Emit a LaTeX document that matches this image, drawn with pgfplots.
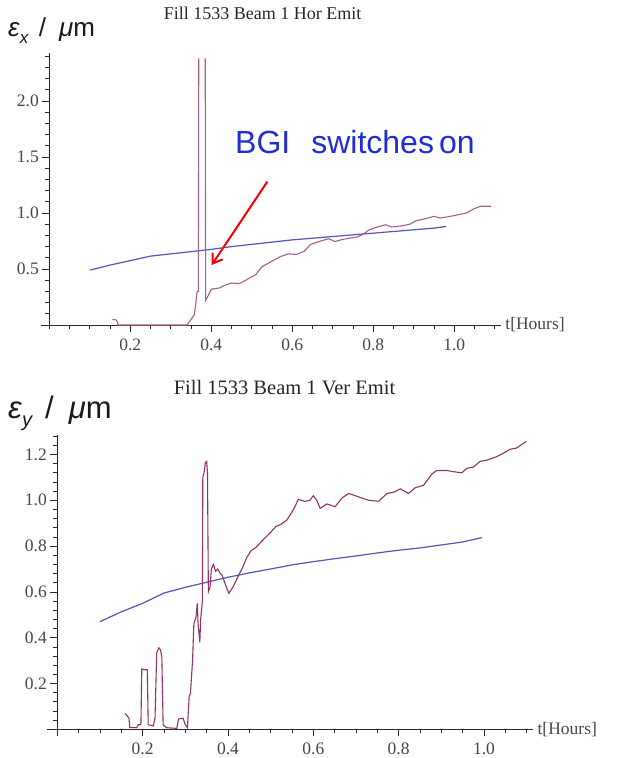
\documentclass[border=0pt]{standalone}
\usepackage{pgfplots}
\pgfplotsset{compat=1.18}
\usetikzlibrary{arrows.meta}
\usepackage{fontspec}
\setmainfont{Liberation Serif}
\newfontfamily\arial{Liberation Sans}
\definecolor{emblue}{RGB}{85,85,180}
\definecolor{empurpleA}{RGB}{165,95,140}
\definecolor{empurpleB}{RGB}{145,50,105}
\definecolor{bgiblue}{RGB}{30,45,215}
\definecolor{tickgray}{RGB}{70,70,70}
\definecolor{axgray}{RGB}{40,40,40}
\pgfplotsset{
  mstyle/.style={
    axis lines=middle,
    every inner x axis line/.append style={-},
    every inner y axis line/.append style={-},
    axis line style={axgray, line width=0.9pt, -},
    tick style={axgray, line width=0.7pt},
    tick align=outside,
    major tick length=7pt, minor tick length=4pt,
    ticklabel style={tickgray, font=\fontsize{17.5}{17.5}\selectfont},
    xticklabel style={yshift=-3pt},
    /pgf/number format/assume math mode=true,
    /pgf/number format/fixed, /pgf/number format/fixed zerofill,
    /pgf/number format/precision=1,
    xtick={0.2,0.4,0.6,0.8,1.0},
    minor xtick={0.05,0.1,0.15,0.25,0.3,0.35,0.45,0.5,0.55,0.65,0.7,0.75,0.85,0.9,0.95,1.05,1.1},
    xlabel={t[Hours]},
    xlabel style={tickgray, font=\fontsize{17.5}{17.5}\selectfont, anchor=west, xshift=1pt},
    unbounded coords=jump,
  }
}
\begin{document}
\begin{tikzpicture}[x=1pt,y=1pt]
\useasboundingbox (0,0) rectangle (619,758);
% ---------------- top panel ----------------
\begin{axis}[mstyle,
  at={(49.3pt,433pt)}, anchor=origin,
  x=405pt, y=112pt,
  xmin=-0.02, xmax=1.115, ymin=-0.036, ymax=2.43,
  ytick={0.5,1.0,1.5,2.0},
  minor ytick={0.1,0.2,0.3,0.4,0.6,0.7,0.8,0.9,1.1,1.2,1.3,1.4,1.6,1.7,1.8,1.9,2.1,2.2,2.3,2.4},
]
\addplot[emblue, line width=1.2pt] coordinates {
(0.10,0.49) (0.15,0.535) (0.20,0.575) (0.25,0.615) (0.30,0.635) (0.35,0.655)
(0.40,0.675) (0.45,0.70) (0.50,0.72) (0.55,0.74) (0.60,0.76) (0.65,0.775)
(0.70,0.79) (0.75,0.805) (0.80,0.82) (0.85,0.835) (0.90,0.85) (0.95,0.865) (0.98,0.88)
};
\addplot[empurpleA, line width=1.1pt] coordinates {
(0.156,0.05) (0.165,0.045) (0.168,0.03) (0.17,0.0) (0.34,0.0) (0.346,0.03)
(0.352,0.06) (0.358,0.09) (0.362,0.2) (0.365,0.3) (0.368,0.3) (0.369,2.38)
(0.377,nan) (0.385,2.38) (0.386,0.22) (0.392,0.26) (0.40,0.32) (0.42,0.33)
(0.43,0.35) (0.45,0.375) (0.47,0.37) (0.49,0.41) (0.51,0.45) (0.525,0.52)
(0.55,0.57) (0.57,0.61) (0.59,0.635) (0.61,0.63) (0.63,0.66) (0.645,0.72)
(0.67,0.75) (0.69,0.77) (0.705,0.745) (0.72,0.76) (0.74,0.775) (0.76,0.785)
(0.775,0.81) (0.79,0.85) (0.81,0.875) (0.83,0.895) (0.845,0.875) (0.87,0.885)
(0.89,0.9) (0.905,0.93) (0.93,0.95) (0.95,0.97) (0.965,0.955) (0.99,0.97)
(1.01,0.985) (1.03,1.0) (1.05,1.04) (1.065,1.06) (1.09,1.06)
};
\end{axis}
% ---------------- bottom panel ----------------
\begin{axis}[mstyle,
  at={(57.3pt,28.7pt)}, anchor=origin,
  x=426.7pt, y=229pt,
  xmin=-0.023, xmax=1.115, ymin=-0.03, ymax=1.285,
  ytick={0.2,0.4,0.6,0.8,1.0,1.2},
  minor ytick={0.04,0.08,0.12,0.16,0.24,0.28,0.32,0.36,0.44,0.48,0.52,0.56,0.64,0.68,0.72,0.76,0.84,0.88,0.92,0.96,1.04,1.08,1.12,1.16,1.24,1.28},
]
\addplot[emblue, line width=1.2pt] coordinates {
(0.10,0.47) (0.15,0.513) (0.20,0.55) (0.25,0.595) (0.30,0.62) (0.35,0.642)
(0.40,0.664) (0.45,0.683) (0.50,0.70) (0.55,0.718) (0.60,0.732) (0.65,0.745)
(0.70,0.757) (0.75,0.77) (0.80,0.782) (0.85,0.792) (0.90,0.805) (0.95,0.818) (0.995,0.837)
};
\addplot[empurpleB, line width=1.1pt] coordinates {
(0.159,0.07) (0.164,0.058) (0.168,0.048) (0.170,0.007) (0.186,0.007) (0.19,0.02)
(0.196,0.02) (0.198,0.263) (0.205,0.26) (0.211,0.26) (0.213,0.02) (0.225,0.015)
(0.229,0.048) (0.233,0.335) (0.238,0.356) (0.242,0.346) (0.245,0.314) (0.248,0.02)
(0.256,0.007) (0.28,0.004) (0.284,0.045) (0.295,0.048) (0.30,0.02) (0.305,0.007)
(0.309,0.143) (0.312,0.157) (0.317,0.30) (0.32,0.46) (0.325,0.49) (0.328,0.55)
(0.33,0.46) (0.334,0.38) (0.336,0.48) (0.339,0.54) (0.340,0.56) (0.341,1.1)
(0.344,1.12) (0.347,1.165) (0.350,1.17) (0.352,1.12) (0.354,0.6) (0.358,0.62)
(0.361,0.70) (0.366,0.72) (0.371,0.69) (0.376,0.70) (0.382,0.68) (0.386,0.674)
(0.396,0.622) (0.402,0.594) (0.412,0.622) (0.423,0.665) (0.435,0.71) (0.444,0.75)
(0.454,0.78) (0.466,0.795) (0.477,0.817) (0.489,0.84) (0.50,0.86) (0.512,0.885)
(0.524,0.895) (0.538,0.914) (0.553,0.958) (0.565,1.004) (0.58,0.995) (0.592,1.0)
(0.60,1.02) (0.608,1.0) (0.616,0.965) (0.632,0.984) (0.651,0.972) (0.667,1.01)
(0.683,1.03) (0.706,1.015) (0.73,1.0) (0.753,0.996) (0.773,1.03) (0.788,1.035)
(0.804,1.05) (0.823,1.03) (0.839,1.055) (0.858,1.065) (0.878,1.115) (0.889,1.13)
(0.913,1.13) (0.928,1.125) (0.948,1.12) (0.96,1.14) (0.975,1.145) (0.991,1.17)
(1.006,1.175) (1.029,1.19) (1.045,1.205) (1.061,1.223) (1.076,1.228) (1.099,1.257)
};
\end{axis}
% ---------------- annotations ----------------
\node[anchor=base, inner sep=0pt, text=black!85] at (262.5,738)
  {\fontsize{18}{18}\selectfont Fill 1533 Beam 1 Hor Emit};
\node[anchor=base, inner sep=0pt, text=black!85] at (284.5,363)
  {\fontsize{20.5}{20.5}\selectfont Fill 1533 Beam 1 Ver Emit};
\node[anchor=base west, inner sep=0pt, text=black!90] at (8,721)
  {\arial\fontsize{26}{26}\selectfont\textit{ε}\raisebox{-7pt}{\fontsize{17}{17}\selectfont\textit{x}}\hspace{10pt}/\hspace{13pt}\textit{μ}m};
\node[anchor=base west, inner sep=0pt, text=black!90] at (8,339.7)
  {\arial\fontsize{31}{31}\selectfont\textit{ε}\raisebox{-8pt}{\fontsize{20}{20}\selectfont\textit{y}}\hspace{12pt}/\hspace{15pt}\textit{μ}m};
\node[anchor=base west, inner sep=0pt, text=bgiblue] at (235,604.7)
  {\arial\fontsize{32}{32}\selectfont BGI\hspace{21pt}switches\hspace{5pt}on};
\draw[red, line width=2pt, -{Straight Barb[length=9pt,width=12pt]}] (267.3,576.3) -- (211.7,493);
\end{tikzpicture}
\end{document}
